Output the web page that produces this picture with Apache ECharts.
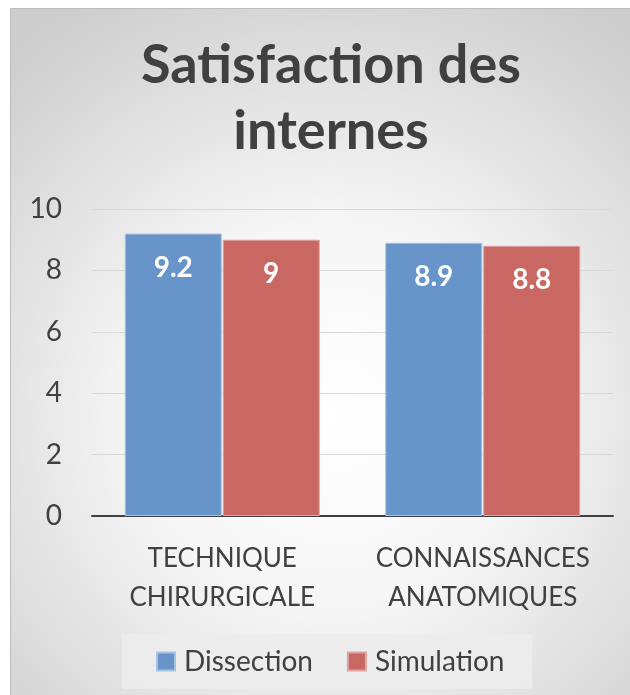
<!DOCTYPE html>
<html>
<head>
<meta charset="utf-8">
<script src="https://cdn.jsdelivr.net/npm/echarts@6/dist/echarts.min.js"></script>
<style>
  html, body { margin: 0; padding: 0; background: #fff; }
  #chart { width: 630px; height: 695px; }
</style>
</head>
<body>
<div id="chart"></div>
<script>
const categories = ['TECHNIQUE\nCHIRURGICALE', 'CONNAISSANCES\nANATOMIQUES'];
const seriesNames = ['Dissection', 'Simulation'];
const dissection = [9.2, 8.9];
const simulation = [9, 8.8];
const yTicks = [0, 2, 4, 6, 8, 10];

const font = 'Lato';
const textColor = '#404040';
const colors = ['#6794c9', '#c96763'];
const borders = ['#a9c2e1', '#e0a3a1'];

const chart = echarts.init(document.getElementById('chart'));

function barSeries(name, data, i) {
  return {
    name: name,
    type: 'bar',
    data: data,
    barWidth: 97,
    barGap: '1%',
    itemStyle: { color: colors[i], borderColor: borders[i], borderWidth: 1 },
    label: {
      show: true,
      position: 'insideTop',
      distance: 20,
      color: '#fff',
      fontFamily: font,
      fontWeight: 'bold',
      fontSize: 28
    }
  };
}

chart.setOption({
  backgroundColor: '#fff',
  animation: false,
  graphic: [{
    type: 'rect',
    z: -10,
    shape: { x: 10.5, y: 8.5, width: 640, height: 700 },
    style: {
      fill: {
        type: 'radial', x: 0.5, y: 0.58, r: 0.75,
        colorStops: [
          { offset: 0, color: '#ffffff' },
          { offset: 0.4, color: '#f6f6f6' },
          { offset: 1, color: '#cdcdcd' }
        ]
      },
      stroke: '#bdbdbd',
      lineWidth: 1
    }
  }],
  title: {
    text: 'Satisfaction des\ninternes',
    left: 326,
    textAlign: 'center',
    top: 28,
    textStyle: {
      fontFamily: font,
      fontWeight: 'bold',
      fontSize: 54,
      lineHeight: 66,
      color: textColor
    }
  },
  legend: {
    data: seriesNames,
    left: 122,
    top: 634,
    padding: [11, 28, 11, 34],
    backgroundColor: 'rgba(236,236,236,0.9)',
    itemWidth: 18,
    itemHeight: 18,
    itemGap: 34,
    icon: 'rect',
    textStyle: { fontFamily: font, fontSize: 28, color: textColor, lineHeight: 33, padding: [0, 0, 0, 4] }
  },
  grid: { left: 92, right: 17, top: 209, bottom: 179 },
  xAxis: {
    type: 'category',
    data: categories,
    axisLine: { lineStyle: { color: '#404040', width: 2 } },
    axisTick: { show: false },
    axisLabel: {
      interval: 0,
      margin: 23,
      fontFamily: font,
      fontSize: 26,
      lineHeight: 39,
      color: textColor
    }
  },
  yAxis: {
    type: 'value',
    min: yTicks[0],
    max: yTicks[yTicks.length - 1],
    interval: 2,
    axisLine: { show: false },
    axisTick: { show: false },
    splitLine: { lineStyle: { color: '#d9d9d9', width: 1 } },
    axisLabel: {
      margin: 30,
      fontFamily: font,
      fontSize: 28,
      color: textColor
    }
  },
  series: [
    barSeries(seriesNames[0], dissection, 0),
    barSeries(seriesNames[1], simulation, 1)
  ]
});
</script>
</body>
</html>
